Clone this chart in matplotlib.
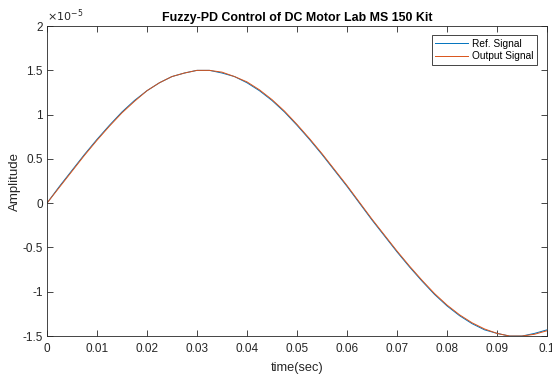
import numpy as np
import matplotlib
matplotlib.use("Agg")
import matplotlib.pyplot as plt
from matplotlib.ticker import FormatStrFormatter

plt.rcParams['font.family'] = ['Liberation Sans', 'DejaVu Sans']
plt.rcParams['axes.unicode_minus'] = False

# time samples (sec) and signals in units of 1e-5
t = [0.0000, 0.0025, 0.0050, 0.0075, 0.0100, 0.0125, 0.0150, 0.0175, 0.0200,
     0.0225, 0.0250, 0.0275, 0.0300, 0.0325, 0.0350, 0.0375, 0.0400, 0.0425,
     0.0450, 0.0475, 0.0500, 0.0525, 0.0550, 0.0575, 0.0600, 0.0625, 0.0650,
     0.0675, 0.0700, 0.0725, 0.0750, 0.0775, 0.0800, 0.0825, 0.0850, 0.0875,
     0.0900, 0.0925, 0.0950, 0.0975, 0.1000]
ref_signal = [0.00, 0.19, 0.37, 0.55, 0.72, 0.88, 1.03, 1.16, 1.27, 1.36, 1.43,
              1.47, 1.50, 1.50, 1.47, 1.43, 1.36, 1.27, 1.16, 1.03, 0.88, 0.72,
              0.55, 0.37, 0.19, 0.00, -0.19, -0.37, -0.55, -0.72, -0.88, -1.03,
              -1.16, -1.27, -1.36, -1.43, -1.47, -1.50, -1.50, -1.47, -1.43]
out_signal = [0.00, 0.18, 0.36, 0.54, 0.71, 0.87, 1.02, 1.15, 1.27, 1.36, 1.43,
              1.47, 1.50, 1.50, 1.48, 1.43, 1.37, 1.28, 1.17, 1.04, 0.89, 0.73,
              0.56, 0.38, 0.20, 0.01, -0.18, -0.36, -0.54, -0.71, -0.87, -1.02,
              -1.15, -1.26, -1.35, -1.42, -1.47, -1.50, -1.50, -1.48, -1.44]

ax_col = '#262626'

fig = plt.figure(figsize=(5.52, 3.78), dpi=100)
ax = fig.add_axes([0.085, 0.111, 0.906, 0.820])

ax.plot(t, ref_signal, color='#0072BD', lw=0.7, label='Ref. Signal')
ax.plot(t, out_signal, color='#D95319', lw=0.7, label='Output Signal')

ax.set_xlim(0, 0.1)
ax.set_ylim(-1.5, 2)
ax.set_xticks(np.arange(0, 0.101, 0.01))
ax.set_yticks(np.arange(-1.5, 2.01, 0.5))
ax.xaxis.set_major_formatter(FormatStrFormatter('%g'))
ax.yaxis.set_major_formatter(FormatStrFormatter('%g'))
ax.tick_params(direction='in', top=True, right=True, length=4, width=0.6,
               colors=ax_col, labelsize=8.5, pad=3)
ax.tick_params(axis='x', pad=5)
for s in ax.spines.values():
    s.set_color(ax_col)
    s.set_linewidth(0.6)

ax.text(0.0, 1.008, r'$\times10^{-5}$', transform=ax.transAxes, fontsize=8,
        color=ax_col, ha='left', va='bottom')
ax.set_title('Fuzzy-PD Control of DC Motor Lab MS 150 Kit', fontsize=8.9,
             fontweight='bold', pad=4)
ax.set_xlabel('time(sec)', fontsize=9.2, color=ax_col, labelpad=5)
ax.set_ylabel('Amplitude', fontsize=9.5, color=ax_col, labelpad=1)

leg = ax.legend(loc='upper right', fontsize=7.3, fancybox=False,
                edgecolor=ax_col, framealpha=1, handlelength=3.2,
                borderpad=0.35, labelspacing=0.25, handletextpad=0.4,
                borderaxespad=0, bbox_to_anchor=(0.98, 0.97))
leg.get_frame().set_linewidth(0.6)

fig.savefig('out.png', dpi=100)
